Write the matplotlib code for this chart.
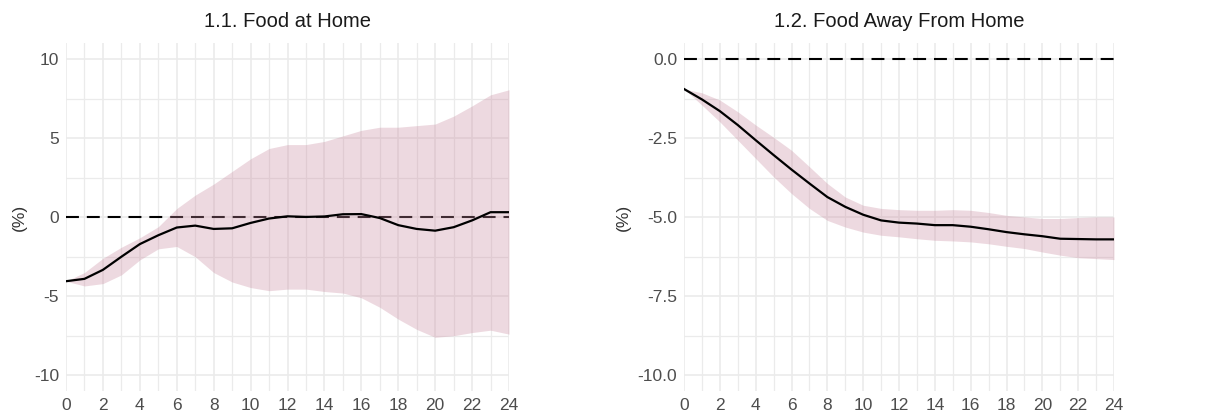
import matplotlib
matplotlib.use("Agg")
import matplotlib.pyplot as plt
from matplotlib.ticker import MultipleLocator, FixedLocator
import numpy as np

plt.rcParams['font.family'] = ['Liberation Sans', 'DejaVu Sans']

horizon = list(range(25))

# Panel 1.1 Food at Home
home_mid = [-4.05, -3.9, -3.33, -2.5, -1.7, -1.14, -0.65, -0.53, -0.74, -0.7, -0.36, -0.08,
            0.06, 0.02, 0.05, 0.19, 0.2, -0.05, -0.5, -0.74, -0.85, -0.63, -0.2, 0.32, 0.32]
home_hi = [-4.05, -3.5, -2.6, -1.9, -1.3, -0.6, 0.55, 1.4, 2.1, 2.9, 3.7, 4.35,
           4.6, 4.6, 4.8, 5.15, 5.5, 5.7, 5.7, 5.8, 5.9, 6.4, 7.05, 7.75, 8.07]
home_lo = [-4.05, -4.35, -4.2, -3.65, -2.7, -2.0, -1.85, -2.5, -3.5, -4.1, -4.45, -4.65,
           -4.55, -4.55, -4.7, -4.8, -5.1, -5.7, -6.45, -7.1, -7.6, -7.5, -7.3, -7.15, -7.4]

# Panel 1.2 Food Away From Home
away_mid = [-0.94, -1.27, -1.64, -2.08, -2.56, -3.03, -3.49, -3.93, -4.36, -4.67, -4.92, -5.1,
            -5.17, -5.2, -5.25, -5.25, -5.3, -5.38, -5.47, -5.54, -5.6, -5.68, -5.69, -5.7, -5.7]
away_hi = [-0.94, -1.06, -1.29, -1.66, -2.08, -2.47, -2.88, -3.4, -3.93, -4.36, -4.62, -4.72,
           -4.76, -4.78, -4.78, -4.76, -4.78, -4.85, -4.94, -4.99, -5.04, -5.04, -5.01, -4.99, -4.99]
away_lo = [-0.94, -1.45, -1.98, -2.56, -3.14, -3.72, -4.25, -4.72, -5.1, -5.31, -5.47, -5.57,
           -5.62, -5.68, -5.73, -5.75, -5.78, -5.84, -5.92, -5.99, -6.1, -6.2, -6.28, -6.31, -6.34]

titles = ["1.1. Food at Home", "1.2. Food Away From Home"]
x_ticks = list(range(0, 25, 2))

fig = plt.figure(figsize=(12.22, 4.19), dpi=100)
ax1 = fig.add_axes([66/1222, 28/419, 443/1222, 347.5/419])
ax2 = fig.add_axes([684/1222, 28/419, 430/1222, 347.5/419])

grid_color = '#ebebeb'
tick_color = '#4d4d4d'

def style(ax, ylim, major, minor, fmt):
    ax.set_xlim(0, 24)
    ax.set_ylim(*ylim)
    ax.xaxis.set_major_locator(FixedLocator(x_ticks))
    ax.xaxis.set_minor_locator(MultipleLocator(1))
    ax.yaxis.set_major_locator(FixedLocator(major))
    ax.yaxis.set_minor_locator(FixedLocator(minor))
    ax.set_yticklabels([fmt(v) for v in major])
    ax.grid(which='major', color=grid_color, linewidth=1.2, zorder=0)
    ax.grid(which='minor', color=grid_color, linewidth=0.9, zorder=0)
    ax.set_axisbelow(True)
    for s in ax.spines.values():
        s.set_visible(False)
    ax.tick_params(which='both', length=0, labelsize=12.5, labelcolor=tick_color, pad=5)
    ax.set_ylabel("(%)", fontsize=12.5, color='#333333', labelpad=5)

dash = (0, (6.2, 3.8))

# Left panel
ax1.axhline(0, color='black', linestyle=dash, linewidth=1.5, zorder=2)
ax1.fill_between(horizon, home_lo, home_hi, color='#c98a9f', alpha=0.32, linewidth=0, zorder=3)
ax1.plot(horizon, home_mid, color='black', linewidth=1.6, zorder=4)
style(ax1, (-11, 11), [-10, -5, 0, 5, 10], [-7.5, -2.5, 2.5, 7.5], lambda v: f"{v:g}")
ax1.set_title(titles[0], fontsize=14.5, color='#1a1a1a', pad=12)

# Right panel
ax2.axhline(0, color='black', linestyle=dash, linewidth=1.5, zorder=2)
ax2.fill_between(horizon, away_lo, away_hi, color='#c98a9f', alpha=0.32, linewidth=0, zorder=3)
ax2.plot(horizon, away_mid, color='black', linewidth=1.6, zorder=4)
style(ax2, (-10.5, 0.5), [-10, -7.5, -5, -2.5, 0], [-8.75, -6.25, -3.75, -1.25],
      lambda v: f"{v:.1f}")
ax2.set_title(titles[1], fontsize=14.5, color='#1a1a1a', pad=12)

fig.savefig("out.png", dpi=100, facecolor='white')
